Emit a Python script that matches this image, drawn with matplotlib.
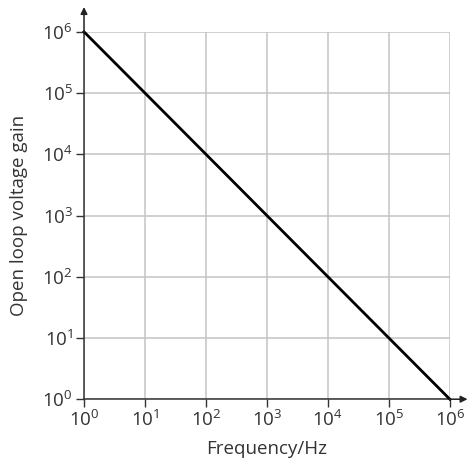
import numpy as np
import matplotlib.pyplot as plt
from matplotlib.ticker import FixedLocator, FuncFormatter, NullLocator

plt.rcParams['font.family'] = ['Open Sans', 'DejaVu Sans']
plt.rcParams['mathtext.fontset'] = 'custom'
plt.rcParams['mathtext.rm'] = 'Open Sans'
plt.rcParams['mathtext.it'] = 'Open Sans'

# open loop gain falls one decade per decade of frequency
freq = [1e0, 1e6]
gain = [1e6, 1e0]
decades = [0, 1, 2, 3, 4, 5, 6]

fig = plt.figure(figsize=(4.72, 4.68), dpi=100)
ax = fig.add_axes([0.178, 0.147, 0.775, 0.785])

ax.set_xscale('log')
ax.set_yscale('log')
ax.set_xlim(1e0, 1e6)
ax.set_ylim(1e0, 1e6)

ticks = [10.0 ** d for d in decades]
fmt = FuncFormatter(lambda v, p: r'$10^{%d}$' % round(np.log10(v)))
for axis in (ax.xaxis, ax.yaxis):
    axis.set_major_locator(FixedLocator(ticks))
    axis.set_minor_locator(NullLocator())
    axis.set_major_formatter(fmt)

ax.grid(True, color='#c4c4c4', lw=1.1)
ax.set_axisbelow(True)
ax.plot(freq, gain, color='black', lw=2.0, clip_on=False, zorder=3)

for s in ('top', 'right'):
    ax.spines[s].set_visible(False)
for s in ('left', 'bottom'):
    ax.spines[s].set_color('#333333')
    ax.spines[s].set_linewidth(1.1)

ax.tick_params(direction='out', length=6, width=1, color='#333333',
               labelsize=13.5, labelcolor='#333333', pad=2)

# axis arrows
ax.annotate('', xy=(0, 1.075), xycoords='axes fraction', xytext=(0, 0.99),
            arrowprops=dict(arrowstyle='-|>', color='#222222', lw=1.1,
                            mutation_scale=10))
ax.annotate('', xy=(1.056, 0), xycoords='axes fraction', xytext=(0.99, 0),
            arrowprops=dict(arrowstyle='-|>', color='#222222', lw=1.1,
                            mutation_scale=10))

ax.set_xlabel('Frequency/Hz', fontsize=13.5, color='#333333', labelpad=7)
ax.set_ylabel('Open loop voltage gain', fontsize=13.5, color='#333333', labelpad=10)

fig.savefig('out.png', dpi=100)
